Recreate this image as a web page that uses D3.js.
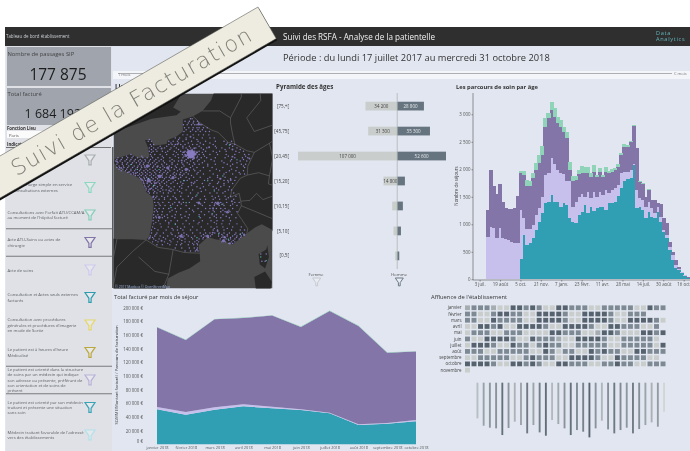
<!DOCTYPE html>
<html lang="fr">
<head>
<meta charset="utf-8">
<title>Suivi des RSFA</title>
<script src="https://cdn.jsdelivr.net/npm/d3@7"></script>
<style>
    html, body { margin: 0; padding: 0; background: #fff; }
    svg { display: block; font-family: "Open Sans", sans-serif; filter: blur(0.4px); }
    .axis path, .axis line { stroke: #555; stroke-width: 0.6; }
    .axis text { fill: #555; font-size: 4.4px; font-family: "Open Sans", sans-serif; }
</style>
</head>
<body>
<div id="chart"></div>
<script>
// Pyramide des ages
const ageGroups = ["[75,+[", "[45,75[", "[20,45[", "[15,20[", "[10,15[", "[5,10[", "[0,5["];
const femmes = [34200, 31300, 107000, 14800, 5400, 4000, 2200];
const hommes = [28800, 35300, 52600, 8300, 6100, 4000, 2200];

// Parcours de soin par age, one value per week
const tealWeekly = [0,0,0,0,0,0,0,0,0,0,0,370,805,625,655,745,895,1050,1200,1380,1410,1530,1410,1410,1320,1380,1350,1110,1050,1020,1170,1230,1350,1200,1320,1240,1290,1320,1320,1260,1380,1380,1410,1520,1655,1790,1825,1835,2080,1290,1320,1260,1110,1230,1140,1110,1230,1050,865,745,535,350,210,170,110,65,20];
const lilacWeekly = [775,955,925,745,925,745,730,715,685,655,655,890,305,290,260,245,275,240,300,515,515,670,680,580,605,530,440,680,270,390,330,330,150,395,150,355,210,275,215,365,185,245,245,195,270,165,130,155,10,335,150,180,210,180,150,90,90,90,40,60,60,90,50,20,15,15,10];
const purpleWeekly = [485,1035,775,815,805,655,570,555,585,645,865,670,790,785,785,845,820,820,760,880,1005,880,870,845,850,775,775,200,470,395,410,365,425,330,395,360,365,360,330,330,360,320,335,335,335,455,455,500,705,755,305,290,180,220,150,240,60,225,205,215,90,60,90,40,15,5,5];
const greenWeekly = [0,0,0,0,0,0,0,0,0,0,0,40,70,100,90,95,120,150,160,155,90,135,150,125,125,90,120,150,95,80,80,135,125,110,60,125,30,75,30,80,45,60,40,40,30,45,30,25,10,15,15,15,5,5,0,0,0,0,0,0,0,0,0,0,0,0,0];
const weeklyTickDates = ["2017-07-03","2017-08-19","2017-10-05","2017-11-21","2018-01-07","2018-02-23","2018-04-11","2018-05-28","2018-07-14","2018-08-30","2018-10-16"];
const weeklyTickLabels = ["3 juil.","19 août","5 oct.","21 nov.","7 janv.","23 févr.","11 avr.","28 mai","14 juil.","30 août","16 oct."];
const weeklyYTicks = [0, 500, 1000, 1500, 2000, 2500, 3000];

// Total facture par mois
const months = ["janvier 2018","février 2018","mars 2018","avril 2018","mai 2018","juin 2018","juillet 2018","août 2018","septembre 2018","octobre 2018"];
const tealMonthly = [51200,43400,50700,55600,52700,50200,45400,28300,30200,33700];
const lilacMonthly = [3400,3900,3400,2900,2400,1000,900,1000,1000,1900];
const purpleMonthly = [116600,105400,128800,126400,133200,120500,148800,143900,102900,100000];
const greenMonthly = [500,500,500,500,500,500,500,500,500,500];
const monthlyTicks = [0,20000,40000,60000,80000,100000,120000,140000,160000,180000,200000];

// Affluence, level per day of month (1 = calme, 4 = fort)
const heatMonths = ["janvier","février","mars","avril","mai","juin","juillet","août","septembre","octobre","novembre"];
const heatLevels = [
    [2,3,3,3,2,1,1,4,4,3,4,3,1,1,4,4,3,3,3,1,1,3,3,3,3,3,1,1,4,3,3],
    [3,3,1,1,3,4,4,3,3,1,1,4,4,4,4,3,1,1,4,4,4,4,3,1,1,3,3,3],
    [3,3,1,1,4,3,3,3,3,1,1,4,4,4,4,3,1,1,4,4,4,4,3,1,1,4,4,4,4,3,1],
    [1,1,4,4,3,4,1,1,4,4,4,4,3,1,1,4,4,4,4,3,1,1,4,4,3,3,3,1,1,3],
    [1,3,3,3,1,1,3,3,3,1,1,1,1,4,4,3,3,3,1,1,2,4,4,3,1,1,1,4,4,3,4],
    [3,1,1,4,4,4,4,3,1,1,4,3,3,3,2,1,1,4,4,4,4,3,1,1,3,3,3,3,3,1],
    [1,4,4,4,3,1,1,4,3,3,1,3,4,3,3,1,1,3,3,3,3,3,1,1,3,3,3,3,3,1,4],
    [3,3,3,1,1,3,3,3,3,3,1,1,4,3,1,3,3,1,1,4,3,4,3,3,1,1,4,4,3,3,3],
    [1,1,3,3,3,3,3,1,1,3,4,3,3,3,1,1,4,4,4,4,3,1,1,4,3,3,3,3,1,1],
    [4,4,4,4,3,1,1,4,4,3,4,3,1,1,4,4,3,3,3,1,1,3,3,4,3,3,1,1,3,3,3],
    [1]
];
const dayTotals = [4280,5160,5400,5480,6280,5440,4680,5080,6080,5080,5960,6360,4480,4960,5480,6280,5680,5880,6560,5480,4560,5600,6080,5680,5400,6080,5560,5080,4760,5280,3480];

// Filtres de la colonne de gauche
const filterLabels = [
    ["Toutes les structures", "de la région"],
    ["Prise en charge simple en service", "de consultations externes"],
    ["Consultations avec Forfait ATU/CCAM/A", "au moment de l'hôpital facturé"],
    ["Acte ATU-Soins ou actes de", "chirurgie"],
    ["Acte de soins"],
    ["Consultation et Actes seuls externes", "facturés"],
    ["Consultation avec procédures", "générales et procédures d'imagerie", "en mode de Sortie"],
    ["Le patient est à heures d'heure", "Médicalisé"],
    ["Le patient est orienté dans la structure", "de soins par un médecin qui indique", "son adresse ou présente, préférant de", "son orientation et de soins de", "présent"],
    ["Le patient est orienté par son médecin", "traitant et présente une situation", "sans soin"],
    ["Médecin traitant favorable de l'adressé", "vers des établissements"]
];
const filterColors = ["#a9aeb0","#8fd8c0","#86cfb8","#8375a8","#cfc9ee","#2e9db0","#e6d768","#bba83f","#b8b1d8","#3aa3b5","#b2e2ea"];
const filterSeparators = [2, 3, 7, 8];

// Carte: contours en lon/lat
const continentRing = [[13,54.5],[8.5,54],[7,53.4],[5,53.3],[4.2,52],[3.4,51.4],[2.5,51.08],[1.6,50.9],[1.6,50.2],[1,49.9],[0.2,49.7],[0.1,49.45],[-1.1,49.35],[-1.3,49.7],[-1.9,49.7],[-1.6,49.2],[-1.5,48.65],[-2.5,48.6],[-3.2,48.85],[-4.7,48.55],[-4.75,48.3],[-4.4,48],[-3.8,47.8],[-2.8,47.5],[-2.2,47.25],[-2.1,47],[-1.8,46.5],[-1.2,46.15],[-1.1,45.6],[-1.25,44.6],[-1.5,43.6],[-1.8,43.35],[-3,43.4],[-4.5,43.4],[-6,43.6],[-8,43.7],[-9,43],[-9,39.5],[-0.5,39.5],[0,39.8],[0.2,40.7],[1.2,41.1],[2.2,41.4],[3.2,41.9],[3.15,42.45],[3.05,43],[3.9,43.55],[4.6,43.4],[5.3,43.3],[6.2,43.05],[6.9,43.45],[7.5,43.78],[8.3,44.2],[8.9,44.4],[9.8,44.05],[10.3,43.5],[10.6,42.9],[11.2,42.4],[12,39.5],[13,39.5]];
const ukRing = [[-7,50],[-5.7,50.05],[-3.5,50.45],[-1.3,50.95],[1,51.15],[1.4,51.35],[0.7,51.6],[1.7,52.6],[0.3,53],[-0.2,53.7],[-2,54.5],[-7,54.5]];
const corseRing = [[9.4,43],[9.55,42.2],[9.2,41.4],[8.7,41.7],[8.6,42.4],[9.3,42.7]];
const sardaigneRing = [[9.2,41.2],[9.8,40.5],[9.6,39.2],[8.5,39],[8.2,40.8]];
const borderLines = [
    [[2.55,51.08],[3.2,50.7],[4.2,50.3],[4.85,50.15],[5.8,49.55],[6.4,49.45],[7.5,49.05],[8.2,48.95],[7.6,48.1],[7.55,47.55],[6.9,47.35],[6.1,46.6],[6,46.15],[6.8,46.4],[6.95,45.9],[7,45.6],[6.65,45.1],[7.05,44.7],[7.6,44.1],[7.5,43.78]],
    [[-1.8,43.35],[-0.7,42.85],[0.7,42.7],[1.7,42.5],[3.15,42.45]],
    [[3.4,51.4],[5,51.4],[6,51],[6,50.7],[6.2,50],[6.4,49.45]],
    [[6,51],[7,52.2],[7,53.4]],
    [[7.55,47.55],[8.6,47.7],[9.6,47.5],[9.5,47],[10.4,46.8],[10.2,46.3],[9,46],[8.4,46.4],[7.8,45.95],[6.95,45.9]],
    [[10.4,46.8],[12.2,47]],
    [[8.2,48.95],[9.6,49.5],[10.5,49.9],[10,50.6],[8.2,50.2],[7.5,51],[8.8,52],[8.5,54]],
    [[9.6,47.5],[9.9,48.6],[9.6,49.5]],
    [[7,45.6],[8.4,45.2],[9.4,44.9],[10.5,44.6]],
    [[-1.8,43.35],[-3,42.6],[-4.5,41.5],[-5,39.5]],
    [[0.7,42.7],[0.3,41],[-0.5,39.5]],
    [[-4.5,43.4],[-4.8,42.2],[-6.8,41.9]],
    [[-2.5,42.2],[-1,41.2],[0.3,41]]
];
// Lieux de residence: lon, lat, poids
const cityDots = [[2.35,48.85,9],[2.2,48.9,4],[2.5,48.9,4],[2.3,48.7,4],[2.5,48.75,3.5],[2.15,48.8,3],[2.05,48.95,2.5],[2.6,48.6,2.5],[1.9,48.75,2.5],[2.45,49,2.5],[2.75,48.85,2.5],[2.1,48.6,1.5],[2.9,48.95,1.5],[2.65,49.2,1.5],[2.1,49.05,1.5],[1.7,48.95,1.5],
[3.06,50.63,2],[2.3,49.89,1.5],[4.03,49.26,1.5],[1.1,49.44,1.5],[-0.37,49.18,1.5],
[-1.68,48.11,3.5],[-4.49,48.39,1.5],[-4.1,47.99,1.5],[-3.37,47.75,1.5],[-2.76,47.66,1.5],
[-1.55,47.22,4],[-2.2,47.27,1.5],[-0.55,47.47,3.5],[0.2,48,3],[-0.77,48.07,1.5],[-1.43,46.67,1.5],[-0.88,47.06,1.5],
[1.9,47.9,3],[0.69,47.39,3],[1.49,48.45,1.5],[1.33,47.59,1.5],[2.4,47.08,1.5],
[6.18,49.12,1.5],[6.18,48.69,1.5],[7.75,48.58,1.5],[6.02,47.24,1.5],[5.04,47.32,1.5],
[4.83,45.76,3.5],[4.39,45.44,1.5],[5.72,45.19,2.5],[6.13,45.9,1.5],[3.08,45.78,2.5],
[0.34,46.58,1.5],[-1.15,46.16,1.5],[1.26,45.83,1.5],[-0.58,44.84,2.5],[-1.47,43.49,1.5],[-0.37,43.3,1.5],[1.44,43.6,3],[2.89,42.69,1.5],[3.88,43.61,3],[4.36,43.84,1.5],[4.81,43.95,1.5],[5.45,43.53,2],[5.37,43.3,3],[5.93,43.12,2],[7.26,43.7,2]];
// Petites communes, a rough reading of the scatter: one latitude and its longitudes
const townRows = [
    [50.95,[2.3,2.45]],
    [50.8,[1.8,2.2,2.6,2.95]],
    [50.7,[2.1,2.55,3.05]],
    [50.6,[1.65,2.0,2.4,2.7,2.9,3.2,3.35]],
    [50.42,[1.75,2.15,2.55,2.9,3.1,3.5,3.85]],
    [50.3,[1.9,2.5,3.0,3.4]],
    [50.2,[1.7,2.3,2.8,3.2,3.7,4.05]],
    [50.0,[1.6,2.0,2.55,3.05,3.5,4.0]],
    [49.82,[0.9,1.3,1.9,2.6,3.4,4.1,4.5]],
    [49.72,[-1.5,1.2,1.9,2.9]],
    [49.62,[-1.6,-1.3,0.3,0.7,1.1,1.6,2.4,3.0,3.7,4.6,5.4,6.1]],
    [49.52,[0.5,1.2,2.1,3.2,4.1,5.7]],
    [49.42,[-1.4,-1.1,0.3,0.6,0.9,1.4,1.8,2.5,2.9,3.5,4.4,5.6,6.0,6.4]],
    [49.32,[-1.3,-0.5,0.1,0.8,1.6,2.2,3.1,4.6,6.2]],
    [49.22,[-1.5,-1.1,-0.7,-0.1,0.5,1.0,1.6,1.9,2.3,2.8,3.3,3.8,4.7,5.2,5.9,6.6]],
    [49.12,[-1.3,-0.9,0.4,1.2,2.05,2.45,3.5,5.5,6.9]],
    [49.02,[-1.5,-1.15,-0.8,-0.3,0.2,0.8,1.4,1.8,2.2,2.7,3.1,3.7,4.4,5.0,5.6,6.5,7.2]],
    [48.95,[-1.3,0,1.0,1.6,2.5,2.9,3.4,4.7,6.8]],
    [48.82,[-3.2,-1.4,-1.0,-0.5,0.1,0.7,1.15,1.55,1.8,2.75,3.1,3.5,4.1,4.8,5.6,6.4,7.3,7.7]],
    [48.72,[-3.6,-3,-2.2,-1.3,-0.3,0.9,1.7,2.6,2.95,3.6,5.8,7.4]],
    [48.62,[-4.4,-4,-3.5,-3.1,-2.6,-2.1,-1.7,-1.2,-0.7,-0.2,0.4,1.2,1.6,2.05,2.9,3.3,3.8,4.6,5.5,6.4,7.1,7.6]],
    [48.52,[-4.5,-4.1,-3.6,-3.2,-2.8,-2.35,-1.9,-1.4,-0.9,-0.4,0.6,1.9,2.5,3.1,4.2,6.1,7.2]],
    [48.42,[-4.6,-4.2,-3.75,-3.3,-2.9,-2.5,-2.2,-1.85,-1.5,-1.05,-0.6,-0.2,0.4,0.8,1.2,1.75,2.3,2.95,3.6,4.5,5.2,6.0,6.9,7.5]],
    [48.32,[-4.4,-4,-3.5,-3.05,-2.7,-2.35,-2,-1.6,-1.2,-0.8,-0.1,0.6,1.5,2,2.6,3.4,5.4,6.6]],
    [48.22,[-4.5,-4.0,-3.6,-3.15,-2.4,-2.05,-1.4,-0.95,-0.35,0.1,0.6,1.1,1.6,2.2,2.7,3.1,3.9,4.6,5.7,6.2,7.0,7.4]],
    [48.12,[-4.3,-3.9,-3.4,-2.9,-2.55,-2.25,-1.95,-1.5,-1.1,-0.7,-0.25,0.35,0.9,1.7,2.5,3.9,6,7.2]],
    [48.02,[-4.5,-4.25,-3.85,-3.5,-3.05,-2.6,-2.2,-1.9,-1.2,-0.5,-0.1,0.55,1.0,1.5,2.3,2.9,3.5,4.3,5.3,6.6,7.3]],
    [47.92,[-4.3,-3.95,-3.6,-3.2,-2.75,-2.3,-1.8,-1.45,-0.95,-0.25,0.3,0.8,1.3,2.05,2.6,4.7,6.1]],
    [47.82,[-4.1,-3.7,-3.2,-2.85,-2.4,-2.0,-1.65,-1.15,-0.8,-0.45,0,0.4,1.1,1.55,2.2,2.7,3.2,4.1,5.0,5.9,6.5,7.2]],
    [47.72,[-3.5,-3,-2.6,-2.2,-1.85,-1.45,-1,-0.55,-0.15,0.2,0.8,1.4,1.9,3.0,5.6,6.8]],
    [47.62,[-3.2,-2.95,-2.4,-2.1,-1.7,-1.3,-0.9,-0.3,0.1,0.7,1.0,1.7,2.1,2.9,3.5,4.4,5.4,6.2,6.9,7.3]],
    [47.52,[-2.8,-2.55,-2.25,-1.85,-1.45,-1.1,-0.7,-0.35,0.45,0.85,1.55,2.4,4.8]],
    [47.42,[-2.4,-2.0,-1.75,-1.3,-0.9,-0.3,0.05,0.35,0.95,1.4,1.9,2.6,3.2,4.1,4.8,5.5,6.5]],
    [47.32,[-2.3,-1.95,-1.6,-1.15,-0.75,-0.1,0.5,1.2,2.2,3.9,5.1,6]],
    [47.22,[-2.1,-1.85,-1.25,-0.95,-0.6,-0.2,0.3,0.9,1.7,2.0,2.9,3.6,4.3,5.4,5.75,6.4]],
    [47.12,[-2.05,-1.7,-1.4,-1.05,-0.7,-0.35,0.1,0.7,1.4,2.7,4.9,5.8]],
    [47.02,[-2.0,-1.7,-1.3,-1.0,-0.55,-0.1,0.5,1.1,1.6,2.6,3.4,4.1,4.8,5.4,6.2]],
    [46.92,[-1.95,-1.5,-1,-0.5,0.1,1.5,2.4,4,5.4]],
    [46.82,[-1.9,-1.6,-1.15,-0.75,-0.3,0.3,0.8,1.3,2.1,2.9,3.5,4.4,5.1,5.9]],
    [46.72,[-1.8,-1.3,-0.9,-0.4,0.5,1.5,3.2,4.7]],
    [46.62,[-1.8,-1.55,-1.15,-0.7,-0.25,0.05,0.7,1.1,1.9,2.5,3.7,4.5,4.9,5.8,6.1]],
    [46.52,[-1.6,-1,-0.5,0.5,1.3,3.3,5.5]],
    [46.42,[-1.5,-1.1,-0.8,-0.2,0.25,0.85,1.5,2.3,3.0,4.1,4.75,5.3,6.3]],
    [46.22,[-1.1,-0.8,-0.35,0.2,0.7,1.4,2.1,2.8,3.6,4.3,4.9,5.5,6.0,6.5]],
    [46.12,[-0.9,-0.1,0.9,2.5,4.6,5.8]],
    [46.02,[-1.05,-0.6,-0.1,0.45,1.0,1.6,2.4,3.2,3.7,4.4,5.0,5.6,6.3]],
    [45.82,[-1.0,-0.7,-0.25,0.3,0.85,1.65,2.2,2.9,3.6,4.3,4.6,5.1,5.65,6.4,6.8]],
    [45.72,[-0.6,0.65,1.45,3.25,4.55,5.3,6.2]],
    [45.62,[-0.9,-0.5,-0.05,0.45,1.1,1.9,2.7,3.4,4.1,4.5,4.95,5.4,6.0,6.6]],
    [45.42,[-1.0,-0.6,-0.2,0.3,0.9,1.4,2.2,3.0,3.7,4.1,4.7,5.1,5.5,6.2]],
    [45.32,[-0.85,0.6,2.5,4.4,5.3,5.85]],
    [45.22,[-1.05,-0.75,-0.3,0.4,1.0,1.9,2.6,3.3,4.0,4.5,5.1,5.5,5.95,6.6]],
    [45.02,[-1.1,-0.7,-0.35,0.15,0.9,1.4,2.2,3.1,3.6,4.3,4.7,5.3,6.1]],
    [44.92,[-0.9,-0.1,0.6,1.8,4.5,5.6]],
    [44.82,[-1.1,-0.85,-0.3,0.2,0.85,1.5,2.1,3.2,4.1,4.7,5.1,5.9,6.5]],
    [44.62,[-1.15,-0.65,0,0.5,1.1,1.9,2.6,3.4,4.2,4.75,5.3,6.0]],
    [44.52,[-0.9,0.3,3.1,4.5]],
    [44.42,[-1.1,-0.5,0.3,0.9,1.6,2.2,3.0,3.9,4.7,5.2,5.9,6.6]],
    [44.22,[-1.2,-0.4,0.25,1.1,1.75,2.5,3.3,4.2,4.75,5.3,6.2,7.0]],
    [44.12,[-1,0.6,1.4,4.5,5.7]],
    [44.02,[-1.3,-0.7,0.05,0.7,1.1,1.6,2.3,2.9,3.6,4.4,4.8,5.4,6.1,6.9,7.3]],
    [43.82,[-1.3,-0.8,-0.2,0.5,1.2,1.7,2.5,3.2,3.7,4.1,4.55,4.95,5.4,5.9,6.5,7.1]],
    [43.72,[-0.9,0.6,1.5,1.95,3.5,4.3,5.2,5.7,6.4,6.9]],
    [43.62,[-1.4,-1.0,-0.5,0.2,0.9,1.25,1.7,2.1,2.7,3.3,3.65,4.15,4.9,5.3,5.7,6.2,6.6,7.0]],
    [43.52,[-1.2,-0.2,1.1,1.6,2.4,3.5,3.95,5.2,5.5,6.0,6.55,6.95]],
    [43.42,[-1.55,-1.1,-0.6,0,0.7,1.3,1.8,2.5,3.1,3.45,5.05,5.6,6.0,6.4,6.8]],
    [43.32,[-0.9,0.4,1.5,2.9,5.3,5.85,6.25]],
    [43.22,[-1.2,-0.7,-0.1,0.5,1.1,1.8,2.2,2.7,3.05,5.2,5.55,6.1,6.4]],
    [43.12,[0.2,1.5,2.5,2.9,5.85,6.2]],
    [43.02,[-0.8,-0.3,0.4,1.0,1.4,2.1,2.6,2.95]],
    [42.8,[0.9,1.5,2.2,2.65,2.95]],
    [42.6,[1.8,2.3,2.75,3.0]],
    [42.4,[9.3,8.8]],
    [41.9,[8.9,9.2]]
];
const tealDots = [[-1.6,47.35],[-2.6,47.9],[-3.2,48.2],[-1.1,46.9],[3.9,47.2],[4.5,46.55],[5.2,45.7],[4.3,45.1],[3.1,44.9],[1.9,45.8],[0.9,44.4],[2.9,43.5],[4.9,43.75],[5.8,43.4],[6.9,43.75],[8.8,42.2],[9.3,41.95],[5.3,47.5],[2.9,46.3],[6.6,48.5],[5.9,49.4],[-0.6,47.9],[0.5,45.5],[1.7,47.2]];
</script>
<script>
const W = 690, H = 451;
const svg = d3.select("#chart").append("svg").attr("width", W).attr("height", H);
const fr = d3.format(",");
const frNum = n => fr(n).replace(/,/g, " ");

function funnel(g, x, y, color, s) {
    g.append("path")
    .attr("transform", `translate(${x},${y}) scale(${s || 1})`)
    .attr("d", "M-5,-5 L5,-5 L1.1,0.8 L1.1,4.8 L-1.1,4.8 L-1.1,0.8 Z")
    .attr("fill", "#ffffff40")
    .attr("stroke", color)
    .attr("stroke-width", 1.2);
}

// Page background and header
svg.append("rect").attr("width", W).attr("height", H).attr("fill", "#fff");
svg.append("rect").attr("x", 5).attr("y", 27).attr("width", W - 5).attr("height", H - 27).attr("fill", "#e1e6f0");
svg.append("rect").attr("x", 5).attr("y", 27).attr("width", W - 5).attr("height", 19).attr("fill", "#2f2f2f");
svg.append("text").attr("x", 6).attr("y", 38).attr("fill", "#c9cdd2").style("font-size", "4.4px").text("Tableau de bord établissement");
svg.append("text").attr("x", 283).attr("y", 39.5).attr("fill", "#f2f2f2").style("font-size", "8.1px").text("Suivi des RSFA - Analyse de la patientelle");
svg.append("text").attr("x", 656).attr("y", 34.5).attr("fill", "#63b6bc").style("font-size", "5.6px").style("letter-spacing", "0.7px").text("Data");
svg.append("text").attr("x", 656).attr("y", 41).attr("fill", "#63b6bc").style("font-size", "5.6px").style("letter-spacing", "0.7px").text("Analytics");
svg.append("text").attr("x", 283).attr("y", 60.5).attr("fill", "#333").style("font-size", "9.3px").text("Période : du lundi 17 juillet 2017 au mercredi 31 octobre 2018");

// Date slider strip
svg.append("rect").attr("x", 113).attr("y", 71).attr("width", W - 113).attr("height", 8).attr("fill", "#f3f5f9");
svg.append("line").attr("x1", 118).attr("x2", 672).attr("y1", 73.5).attr("y2", 73.5).attr("stroke", "#9a9c9e").attr("stroke-width", 0.8);
svg.append("text").attr("x", 118).attr("y", 76).attr("fill", "#777").style("font-size", "4px").text("1 mois");
svg.append("text").attr("x", 674).attr("y", 75).attr("fill", "#777").style("font-size", "4px").text("C mois");

// Left column
const side = svg.append("g");
side.append("rect").attr("x", 6).attr("y", 46).attr("width", 106).attr("height", H - 46).attr("fill", "#dfe1e6");
side.append("rect").attr("x", 7).attr("y", 47).attr("width", 104).attr("height", 39).attr("fill", "#9fa4ad");
side.append("rect").attr("x", 7).attr("y", 88).attr("width", 104).attr("height", 37).attr("fill", "#9fa4ad");
side.append("text").attr("x", 7.5).attr("y", 55.5).attr("fill", "#444").style("font-size", "5.8px").text("Nombre de passages SIP");
side.append("text").attr("x", 58).attr("y", 80).attr("text-anchor", "middle").attr("fill", "#1d1d1d").style("font-size", "15.5px").text("177 875");
side.append("text").attr("x", 7.5).attr("y", 96).attr("fill", "#444").style("font-size", "5.8px").text("Total facturé");
side.append("text").attr("x", 58).attr("y", 118).attr("text-anchor", "middle").attr("fill", "#1d1d1d").style("font-size", "12.5px").text("1 684 192 €");
side.append("text").attr("x", 7).attr("y", 129.5).attr("fill", "#333").style("font-size", "4.3px").style("font-weight", 700).text("Fonction Lieu");
side.append("rect").attr("x", 7).attr("y", 131).attr("width", 104).attr("height", 7).attr("fill", "#fbfbfc");
side.append("text").attr("x", 9).attr("y", 136.5).attr("fill", "#555").style("font-size", "4.3px").text("Paris");
side.append("text").attr("x", 7).attr("y", 146).attr("fill", "#333").style("font-size", "4.3px").style("font-weight", 700).text("Indicateurs");
side.append("line").attr("x1", 6).attr("x2", 111).attr("y1", 147.5).attr("y2", 147.5).attr("stroke", "#555").attr("stroke-width", 0.8);

const filterY = d3.scalePoint().domain(d3.range(filterLabels.length)).range([160, 435]);
filterLabels.forEach((lines, i) => {
    const text = side.append("text").attr("y", filterY(i) - (lines.length - 1) * 2.6 + 1.5).attr("fill", "#5c5f64").style("font-size", "4.2px");
    lines.forEach((line, j) => {
        text.append("tspan").attr("x", 7.5).attr("dy", j ? 5.2 : 0).text(line);
    });
    funnel(side, 90, filterY(i), filterColors[i]);
});
filterSeparators.forEach(i => {
    const y = (filterY(i) + filterY(i + 1)) / 2;
    side.append("line").attr("x1", 6).attr("x2", 112).attr("y1", y).attr("y2", y).attr("stroke", "#6c6e72").attr("stroke-width", 0.9);
});
side.append("rect").attr("x", 112).attr("y", 147).attr("width", 1.5).attr("height", 141).attr("fill", "#5a5d60");

// Map
const mapBox = {x: 113.5, y: 93.5, w: 159, h: 195};
svg.append("text").attr("x", 115).attr("y", 89).attr("fill", "#333").style("font-size", "6.4px").style("font-weight", 700).text("Lieux");
svg.append("clipPath").attr("id", "map-clip").append("rect").attr("x", mapBox.x).attr("y", mapBox.y).attr("width", mapBox.w).attr("height", mapBox.h);
const map = svg.append("g").attr("clip-path", "url(#map-clip)");
const projection = d3.geoMercator().center([2.35, 48.85]).scale(620).translate([191, 154]);
const ringPath = ring => d3.line()(ring.map(projection)) + "Z";
map.append("rect").attr("x", mapBox.x).attr("y", mapBox.y).attr("width", mapBox.w).attr("height", mapBox.h).attr("fill", "#4b4b4b");
[continentRing, ukRing, corseRing, sardaigneRing].forEach(ring => {
    map.append("path").attr("d", ringPath(ring)).attr("fill", "#292929");
});
borderLines.forEach(lineCoords => {
    map.append("path").attr("d", d3.line()(lineCoords.map(projection))).attr("fill", "none").attr("stroke", "#777").attr("stroke-width", 0.5);
});
const townDots = townRows.flatMap(([lat, lons]) => lons.map(lon => [lon, lat]));
map.selectAll(".town").data(townDots).enter().append("circle")
    .attr("class", "town")
    .attr("cx", d => projection(d)[0])
    .attr("cy", d => projection(d)[1])
    .attr("r", 0.72)
    .attr("fill", "#8a7cc4");
map.selectAll(".city").data(cityDots).enter().append("circle")
    .attr("class", "city")
    .attr("cx", d => projection(d)[0])
    .attr("cy", d => projection(d)[1])
    .attr("r", d => 0.35 + d[2] * 0.42)
    .attr("fill", "#8a7cc4")
    .attr("opacity", 0.85);
map.selectAll(".teal").data(tealDots).enter().append("circle")
    .attr("class", "teal")
    .attr("cx", d => projection(d)[0])
    .attr("cy", d => projection(d)[1])
    .attr("r", 0.6)
    .attr("fill", "#57d3c6");
map.append("text").attr("x", 115).attr("y", 287.5).attr("fill", "#9db4e0").style("font-size", "3.4px").text("© 2017 Mapbox © OpenStreetMap");

// Pyramid
svg.append("text").attr("x", 276).attr("y", 89).attr("fill", "#333").style("font-size", "6.2px").style("font-weight", 700).text("Pyramide des âges");
const pyrX = d3.scaleLinear().domain([-107000, 52600]).range([298, 446]);
const pyrY = d3.scaleBand().domain(ageGroups).range([93.5, 268.5]).paddingInner(0.65).paddingOuter(0.33);
const pyramid = svg.append("g");
ageGroups.forEach((age, i) => {
    const y = pyrY(age), h = pyrY.bandwidth();
    pyramid.append("rect").attr("x", pyrX(-femmes[i])).attr("y", y).attr("width", pyrX(0) - pyrX(-femmes[i])).attr("height", h).attr("fill", "#c9cdcb");
    pyramid.append("rect").attr("x", pyrX(0)).attr("y", y).attr("width", pyrX(hommes[i]) - pyrX(0)).attr("height", h).attr("fill", "#66747f");
    if (femmes[i] > 10000) {
        pyramid.append("text").attr("x", (pyrX(-femmes[i]) + pyrX(0)) / 2).attr("y", y + h / 2 + 1.6).attr("text-anchor", "middle").attr("fill", "#444").style("font-size", "4.5px").text(frNum(femmes[i]));
    }
    if (hommes[i] > 10000) {
        pyramid.append("text").attr("x", (pyrX(hommes[i]) + pyrX(0)) / 2).attr("y", y + h / 2 + 1.6).attr("text-anchor", "middle").attr("fill", "#e5e7ea").style("font-size", "4.5px").text(frNum(hommes[i]));
    }
    pyramid.append("text").attr("x", 289).attr("y", y + h / 2 + 1.6).attr("text-anchor", "end").attr("fill", "#444").style("font-size", "4.6px").text(age);
});
pyramid.append("line").attr("x1", pyrX(0)).attr("x2", pyrX(0)).attr("y1", 93).attr("y2", 269).attr("stroke", "#a9adb0").attr("stroke-width", 0.7);
pyramid.append("text").attr("x", 316).attr("y", 275.5).attr("text-anchor", "middle").attr("fill", "#555").style("font-size", "4.3px").text("Femme");
pyramid.append("text").attr("x", 399).attr("y", 275.5).attr("text-anchor", "middle").attr("fill", "#555").style("font-size", "4.3px").text("Homme");
funnel(pyramid, 316.7, 282, "#c4c8cc", 0.8);
funnel(pyramid, 399.3, 282, "#66747f", 0.8);

// Weekly stacked bars
svg.append("text").attr("x", 456).attr("y", 89).attr("fill", "#333").style("font-size", "5.8px").style("font-weight", 700).text("Les parcours de soin par âge");
const weekStart = new Date(2017, 6, 17), weekEnd = new Date(2018, 9, 29);
const weeks = d3.timeMonday.range(weekStart, weekEnd);
const xWeek = d3.scaleTime().domain([weekStart, weekEnd]).range([485.7, 689.3]);
const yWeek = d3.scaleLinear().domain([0, 3000]).range([279.3, 114.3]);
const weeklyTable = weeks.map((w, i) => ({teal: tealWeekly[i], lilac: lilacWeekly[i], purple: purpleWeekly[i], green: greenWeekly[i]}));
const stackColors = {teal: "#319fb3", lilac: "#c8c0ec", purple: "#8375a8", green: "#8fd4b8"};
const weeklyStack = d3.stack().keys(["teal", "lilac", "purple", "green"])(weeklyTable);
const weekly = svg.append("g").attr("shape-rendering", "crispEdges");
weeklyStack.forEach(layer => {
    weekly.selectAll(".b-" + layer.key).data(layer).enter().append("rect")
    .attr("class", "b-" + layer.key)
    .attr("x", (d, i) => xWeek(weeks[i]))
    .attr("width", (d, i) => xWeek(d3.timeMonday.offset(weeks[i], 1)) - xWeek(weeks[i]) + 1)
    .attr("y", d => yWeek(d[1]))
    .attr("height", d => yWeek(d[0]) - yWeek(d[1]))
    .attr("fill", stackColors[layer.key]);
});
const weeklyXAxis = svg.append("g").attr("class", "axis")
    .attr("transform", "translate(0,280)")
    .call(d3.axisBottom(xWeek).tickValues(weeklyTickDates.map(d => d3.isoParse(d))).tickFormat((d, i) => weeklyTickLabels[i]).tickSize(1.5).tickPadding(1.5));
weeklyXAxis.select(".domain").attr("d", "M473,0H690").attr("stroke", "#222").attr("stroke-width", 1);
const weeklyYAxis = svg.append("g").attr("class", "axis")
    .attr("transform", "translate(473,0)")
    .call(d3.axisLeft(yWeek).tickValues(weeklyYTicks).tickFormat(frNum).tickSize(1.5).tickPadding(1));
weeklyYAxis.select(".domain").attr("d", "M0,93V280").attr("stroke", "#222").attr("stroke-width", 1);
svg.append("text").attr("transform", "translate(458,186) rotate(-90)").attr("text-anchor", "middle").attr("fill", "#444").style("font-size", "4.4px").text("Nombre de séjours");

// Monthly stacked area
svg.append("text").attr("x", 114).attr("y", 299).attr("fill", "#333").style("font-size", "5.7px").text("Total facturé par mois de séjour");
const xMonth = d3.scalePoint().domain(months).range([157, 416]);
const yMonth = d3.scaleLinear().domain([0, 200000]).range([444.3, 307.6]);
const monthlyTable = months.map((m, i) => ({month: m, teal: tealMonthly[i], lilac: lilacMonthly[i], purple: purpleMonthly[i], green: greenMonthly[i]}));
const monthlyStack = d3.stack().keys(["teal", "lilac", "purple", "green"])(monthlyTable);
const monthlyArea = d3.area().x(d => xMonth(d.data.month)).y0(d => yMonth(d[0])).y1(d => yMonth(d[1]));
svg.append("g").selectAll("path").data(monthlyStack).enter().append("path")
    .attr("d", monthlyArea)
    .attr("fill", d => stackColors[d.key]);
const monthlyYAxis = svg.append("g").attr("class", "axis")
    .attr("transform", "translate(144,0)")
    .call(d3.axisLeft(yMonth).tickValues(monthlyTicks).tickFormat(d => frNum(d) + " €").tickSize(0).tickPadding(1));
monthlyYAxis.select(".domain").remove();
monthlyYAxis.selectAll("text").filter(d => d === 0).attr("dy", "-0.4em");
const monthlyXAxis = svg.append("g").attr("class", "axis")
    .attr("transform", "translate(0,444.3)")
    .call(d3.axisBottom(xMonth).tickSize(0).tickPadding(1.5));
monthlyXAxis.select(".domain").remove();
monthlyXAxis.selectAll("text").style("font-size", "3.9px");
svg.append("text").attr("transform", "translate(117.5,375) rotate(-90)").attr("text-anchor", "middle").attr("fill", "#333").style("font-size", "4.2px").text("SOMME(Montant facturé) / Parcours de facturation");

// Heatmap and daily totals
svg.append("text").attr("x", 431).attr("y", 299).attr("fill", "#333").style("font-size", "5.8px").text("Affluence de l'établissement");
const days = d3.range(1, 32);
const xDay = d3.scaleBand().domain(days).range([465, 665.5]).paddingInner(0.24);
const yHeat = d3.scaleBand().domain(heatMonths).range([305.4, 372.5]).paddingInner(0.24);
const levelColor = d3.scaleOrdinal().domain([1, 2, 3, 4]).range(["#c9cdcb", "#a5adb0", "#7e8a93", "#56636e"]);
const heat = svg.append("g");
heatMonths.forEach((month, m) => {
    heat.selectAll(".cell-" + m).data(heatLevels[m]).enter().append("rect")
    .attr("class", "cell-" + m)
    .attr("x", (d, i) => xDay(days[i]))
    .attr("y", yHeat(month))
    .attr("width", xDay.bandwidth())
    .attr("height", yHeat.bandwidth())
    .attr("fill", d => levelColor(d));
    heat.append("text").attr("x", 461.5).attr("y", yHeat(month) + yHeat.bandwidth() / 2 + 1.6).attr("text-anchor", "end").attr("fill", "#444").style("font-size", "4.4px").text(month);
});
const xTotal = d3.scaleBand().domain(days).range([476.5, 665]).paddingInner(0.7);
const yTotal = d3.scaleLinear().domain([0, 6600]).range([382.7, 437.7]);
const totalColor = d3.scaleLinear().domain([3400, 4800, 6600]).range(["#d4d7d6", "#a8b0b4", "#56636e"]);
heat.selectAll(".day-total").data(dayTotals).enter().append("rect")
    .attr("class", "day-total")
    .attr("x", (d, i) => xTotal(days[i]))
    .attr("y", yTotal(0))
    .attr("width", xTotal.bandwidth())
    .attr("height", d => yTotal(d) - yTotal(0))
    .attr("fill", d => totalColor(d));

// Diagonal banner
const banner = svg.append("g").attr("transform", "translate(258,7) rotate(-30)");
banner.append("rect").attr("x", -330).attr("y", 1.5).attr("width", 330).attr("height", 37).attr("fill", "#111");
banner.append("rect").attr("x", -330).attr("y", 0).attr("width", 330).attr("height", 36.5).attr("fill", "#eeece0").attr("stroke", "#55554f").attr("stroke-width", 0.5);
banner.append("text").attr("x", -156.5).attr("y", 26).attr("text-anchor", "middle").attr("fill", "#7f7f78")
    .style("font-family", "'DejaVu Sans', sans-serif").style("font-size", "22px").style("font-weight", 200).style("letter-spacing", "1.3px").text("Suivi de la Facturation");
</script>
</body>
</html>
